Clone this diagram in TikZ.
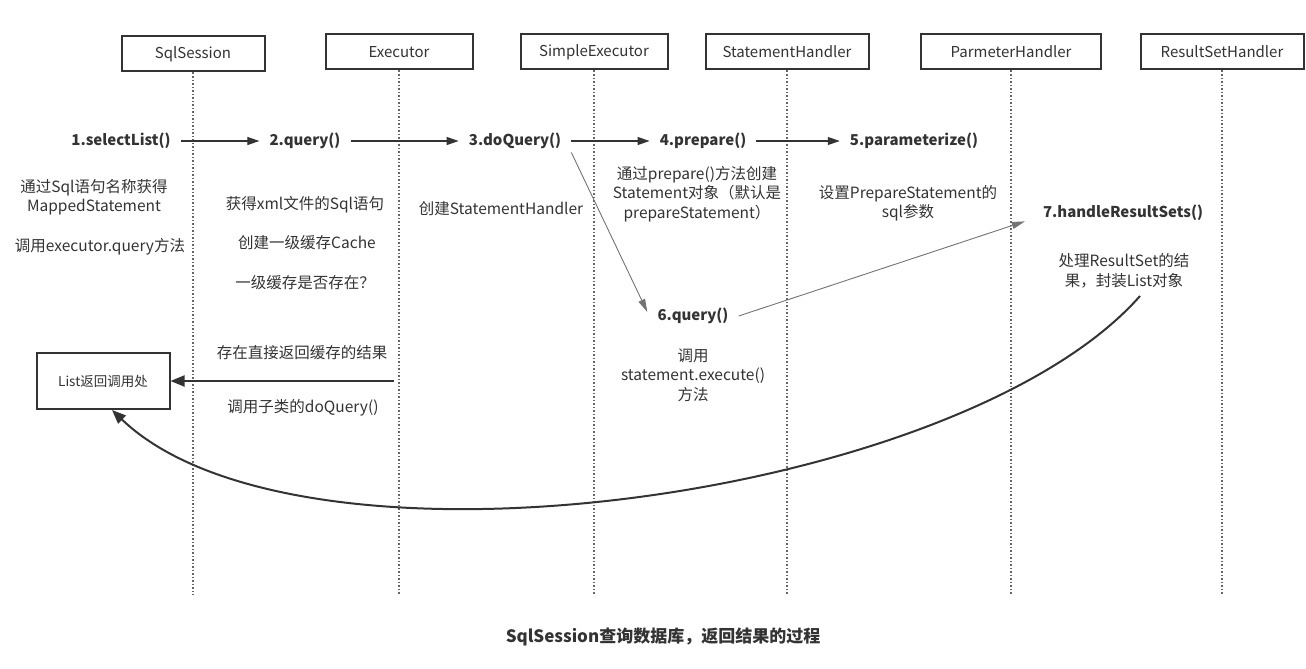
\documentclass[tikz,border=0pt]{standalone}
\usepackage{fontspec}
\setmainfont{Noto Sans CJK SC}
\usetikzlibrary{arrows.meta}
\definecolor{ink}{HTML}{333333}
\tikzset{%
    obj/.style={draw=ink, line width=2pt, fill=white, minimum height=35pt, inner sep=2pt, text=ink, font=\fontsize{15}{18}\selectfont},
    life/.style={draw=black!60, line width=1.5pt, dash pattern=on 1.5pt off 2pt},
    msg/.style={text=ink, inner xsep=10pt, font=\fontsize{15}{18}\selectfont\bfseries},
    txt/.style={text=ink, align=center, font=\fontsize{15.5}{19.5}\selectfont},
    arr/.style={line width=1.2pt, draw=ink, -{Triangle[length=12pt,width=8pt]}},
    diag/.style={line width=0.9pt, draw=black!55, -{Triangle[length=13pt,width=7pt]}},
    ret/.style={line width=2pt, draw=ink, -{Triangle[length=14pt,width=11pt]}},
}
\begin{document}
\begin{tikzpicture}[x=1pt,y=-1pt]
    \useasboundingbox (0,0) rectangle (1306,669);
    % objects
    \node[obj, minimum width=143pt] (ss) at (193,54) {SqlSession};
    \node[obj, minimum width=147pt] (ex) at (399,52) {Executor};
    \node[obj, minimum width=147pt] (se) at (594,52) {SimpleExecutor};
    \node[obj, minimum width=163pt] (sh) at (787,52) {StatementHandler};
    \node[obj, minimum width=180pt] (ph) at (1011,52) {ParmeterHandler};
    \node[obj, minimum width=163pt] (rh) at (1222,52) {ResultSetHandler};
    \coordinate (bot) at (0,595);
    \foreach \n in {ss,ex,se,sh,ph,rh}
        \draw[life] (\n.south) -- (\n.south |- bot);
    % messages
    \node[msg] (m1) at (121,141) {1.selectList()};
    \node[msg] (m2) at (305,141) {2.query()};
    \node[msg] (m3) at (515,141) {3.doQuery()};
    \node[msg] (m4) at (703,141) {4.prepare()};
    \node[msg] (m5) at (914,141) {5.parameterize()};
    \node[msg] (m6) at (693,316) {6.query()};
    \node[msg] (m7) at (1123,213) {7.handleResultSets()};
    \draw[arr] (m1) -- (m2);
    \draw[arr] (m2) -- (m3);
    \draw[arr] (m3) -- (m4);
    \draw[arr] (m4) -- (m5);
    \draw[diag] (m3.south east) -- ([yshift=4pt]m6.west);
    \draw[diag] (m6.east) -- ([xshift=-8pt,yshift=3pt]m7.south west);
    % notes
    \node[txt] (t1) at (94,197) {通过Sql语句名称获得\\MappedStatement};
    \node[txt] (t2) at (100,247) {调用executor.query方法};
    \node[txt] (t3) at (305,205) {获得xml文件的Sql语句};
    \node[txt] (t4) at (307,243) {创建一级缓存Cache};
    \node[txt] (t5) at (305,283) {一级缓存是否存在？};
    \node[txt] (t6) at (501,209) {创建StatementHandler};
    \node[txt] (t7) at (697,194) {通过prepare()方法创建\\Statement对象（默认是\\prepareStatement）};
    \node[txt] (t8) at (908,203) {设置PrepareStatement的\\sql参数};
    \node[txt] (t9) at (1124,271) {处理ResultSet的结\\果，封装List对象};
    \node[txt] (t10) at (693,375) {调用\\statement.execute()\\方法};
    \node[txt] (t11) at (302,353) {存在直接返回缓存的结果};
    \node[txt] (t12) at (303,408) {调用子类的doQuery()};
    % return
    \node[obj, minimum width=133pt, minimum height=56pt, font=\fontsize{13.5}{16}\selectfont] (lst) at (103,381) {List返回调用处};
    \coordinate (exR) at (394,381);
    \coordinate (cs) at (1140,296);
    \draw[ret] (exR) -- (lst.east);
    \draw[ret] (cs) .. controls (960,500) and (300,590) .. ([xshift=9pt]lst.south);
    \node[text=ink, font=\fontsize{17}{20}\selectfont\bfseries] (ttl) at (663,637) {SqlSession查询数据库，返回结果的过程};
\end{tikzpicture}
\end{document}
